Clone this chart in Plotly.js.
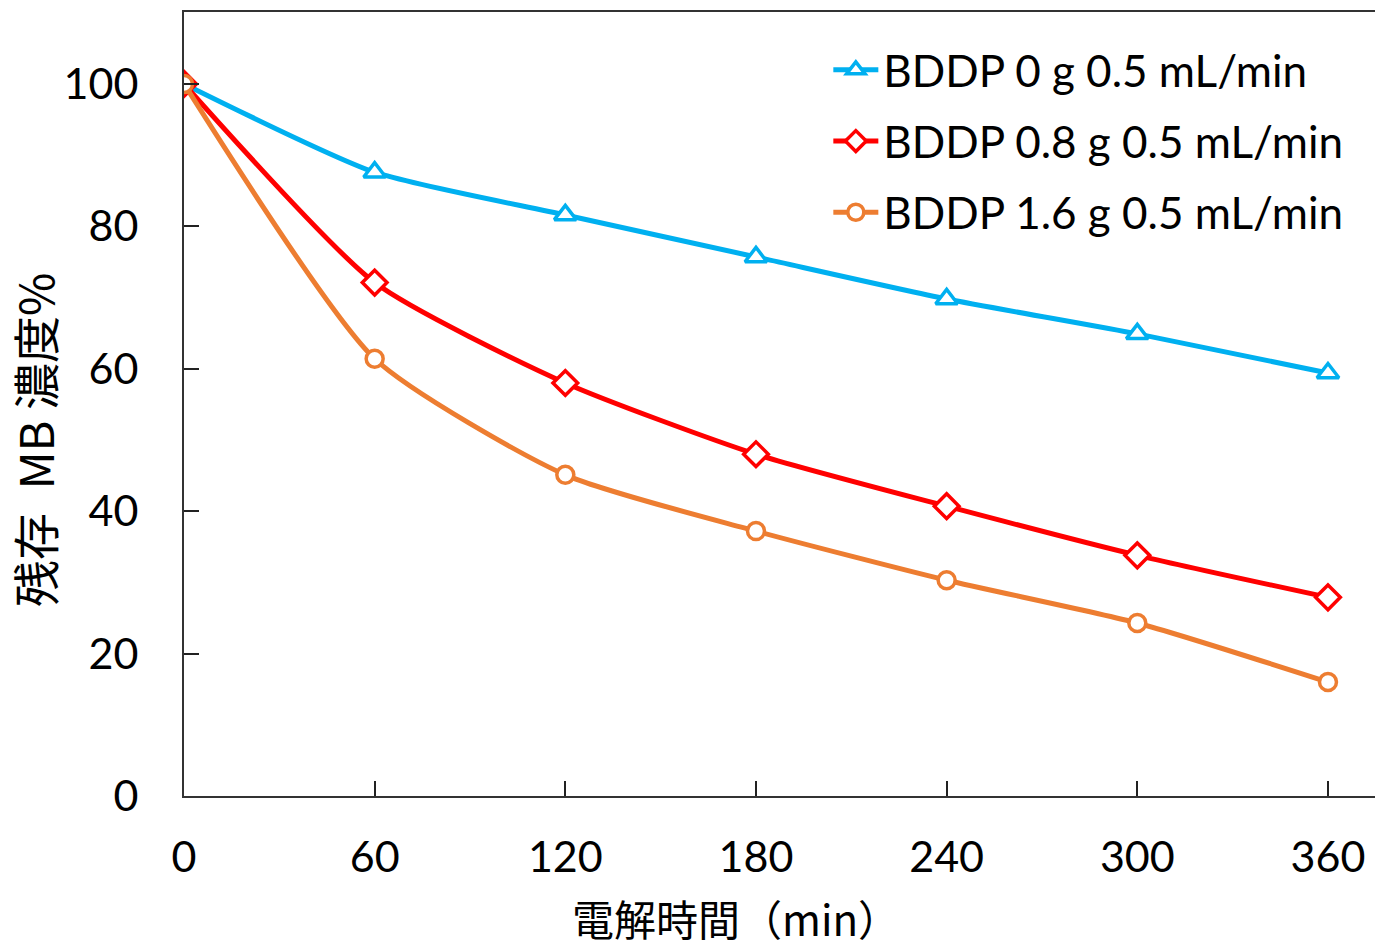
<!DOCTYPE html>
<html>
<head>
<meta charset="utf-8">
<script src="https://cdn.plot.ly/plotly-3.0.1.min.js"></script>
<style>html,body{margin:0;padding:0;background:#fff;}#chart{width:1375px;height:950px;}</style>
</head>
<body>
<div id="chart"></div>
<script>
const time = [0, 60, 120, 180, 240, 300, 360];
const seriesNames = ["BDDP 0 g 0.5 mL/min", "BDDP 0.8 g 0.5 mL/min", "BDDP 1.6 g 0.5 mL/min"];
const bddp0 = [100, 87.6, 81.6, 75.7, 69.8, 64.9, 59.4];
const bddp08 = [100, 72.1, 58.0, 48.0, 40.7, 33.8, 27.9];
const bddp16 = [100, 61.4, 45.1, 37.2, 30.3, 24.3, 16.0];
const xTicks = [0, 60, 120, 180, 240, 300, 360];
const yTicks = [0, 20, 40, 60, 80, 100];
const xTitle = "電解時間（min）";
const yTitle = "残存\u2002MB 濃度%";

const colors = ["#00B0F0", "#FF0000", "#ED7D31"];
const symbols = ["triangle-up", "diamond", "circle"];
const sizes = [19, 19, 17];
const vals = [bddp0, bddp08, bddp16];

const traces = vals.map((v, i) => ({
  x: time, y: v, name: seriesNames[i], type: "scatter", mode: "lines+markers",
  legendgroup: "g" + i,
  line: {color: colors[i], width: 5, shape: "spline", smoothing: 0.6},
  marker: {symbol: symbols[i], size: sizes[i], color: "#fff", line: {color: colors[i], width: 3.5}}
}));

const tickFont = {family: "Lato, 'Open Sans', sans-serif", size: 43, color: "#000"};
const cjkFont = "'Noto Sans CJK JP', sans-serif";
const layout = {
  width: 1375, height: 950,
  margin: {l: 184, r: 0, t: 12, b: 154},
  paper_bgcolor: "#fff", plot_bgcolor: "#fff",
  showlegend: true,
  legend: {x: 0.541, y: 0.971, xanchor: "left", yanchor: "top", itemwidth: 45,
    font: {family: "Lato, 'Open Sans', sans-serif", size: 44, color: "#000"}, tracegroupgap: 11, bgcolor: "rgba(0,0,0,0)"},
  xaxis: {
    range: [0, 374.8], tickvals: xTicks, ticktext: xTicks.map(String),
    ticks: "inside", ticklen: 15, tickwidth: 2, tickcolor: "#222",
    showline: true, linecolor: "#333", linewidth: 2, mirror: true,
    showgrid: false, zeroline: false, tickfont: tickFont, ticklabelstandoff: 22
  },
  yaxis: {
    range: [0, 110.1], tickvals: yTicks, ticktext: yTicks.map(String),
    ticks: "inside", ticklen: 15, tickwidth: 2, tickcolor: "#222",
    showline: true, linecolor: "#333", linewidth: 2,
    showgrid: false, zeroline: false, tickfont: tickFont, ticklabelstandoff: 35
  },
  annotations: [
    {text: xTitle, xref: "paper", yref: "paper", x: 0.4635, y: -0.1556,
     xanchor: "center", yanchor: "middle", showarrow: false, borderpad: 0,
     font: {family: cjkFont, size: 42, color: "#000"}},
    {text: yTitle, xref: "paper", yref: "paper", x: -0.1268, y: 0.454, textangle: -90,
     xanchor: "center", yanchor: "middle", showarrow: false,
     font: {family: cjkFont, size: 47, color: "#000"}}
  ]
};
Plotly.newPlot("chart", traces, layout, {displayModeBar: false});
</script>
</body>
</html>
